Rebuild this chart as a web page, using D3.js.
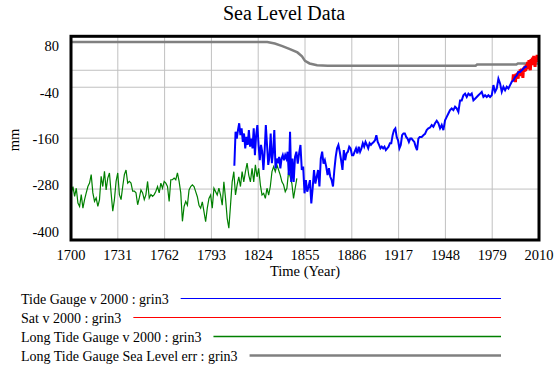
<!DOCTYPE html>
<html><head><meta charset="utf-8">
<script src="https://cdn.jsdelivr.net/npm/d3@7"></script>
<style>
body{margin:0;background:#fff;}
text{font-family:"Liberation Serif","Times New Roman",serif;fill:#000;}
</style></head><body>
<svg id="c" width="560" height="371"></svg>
<script>
const chartTitle = "Sea Level Data";
const xLabel = "Time (Year)";
const yLabel = "mm";
const xTicks = [1700,1731,1762,1793,1824,1855,1886,1917,1948,1979,2010];
const yTicks = [80,-40,-160,-280,-400];
const legendNames = ["Tide Gauge v 2000 : grin3","Sat v 2000 : grin3","Long Tide Gauge v 2000 : grin3","Long Tide Gauge Sea Level err : grin3"];
const seriesColors = ["#0000ff","#ff0000","#008000","#808080"];

// Long Tide Gauge (green), 1700 .. ~1849
const greenRange = [1700.2, 1849.6];
const greenValues = [-289,-274,-297,-278,-313,-321,-293,-325,-305,-289,
 -274,-266,-246,-289,-309,-301,-321,-305,-250,-274,
 -238,-282,-254,-242,-289,-332,-305,-262,-242,-293,
 -305,-274,-246,-235,-266,-262,-266,-285,-285,-289,
 -317,-301,-282,-289,-305,-293,-262,-301,-293,-297,
 -293,-285,-274,-289,-266,-278,-262,-266,-274,-309,
 -258,-258,-254,-258,-242,-262,-289,-356,-321,-309,
 -318,-282,-274,-270,-274,-286,-298,-318,-325,-310,
 -333,-357,-325,-302,-294,-325,-278,-286,-294,-278,
 -294,-318,-263,-302,-349,-372,-318,-263,-239,-294,
 -270,-251,-274,-239,-263,-239,-219,-247,-263,-231,
 -263,-223,-251,-231,-270,-294,-290,-302,-278,-294,
 -274,-239,-227,-239,-223,-235,-247,-263,-270,-286,
 -278,-239,-251,-267,-302,-278,-255];

// Tide Gauge (blue), three stretches
const blue1Range = [1808.2, 1847.5];
const blue1Values = [-225,-145,-161,-141,-125,-153,-137,-169,-149,-184,
 -157,-176,-141,-180,-161,-184,-137,-200,-153,-129,
 -176,-212,-176,-192,-235,-192,-129,-176,-223,-204,
 -149,-219,-192,-141,-231,-208,-219,-204,-231,-208,
 -200,-212,-200,-208,-192,-247,-145,-263,-208,-263];
const blue2Range = [1848.4, 1931.0];
const blue2Values = [-204,-192,-220,-196,-176,-235,-227,-290,-259,-286,
 -274,-259,-314,-278,-235,-267,-251,-235,-274,-208,
 -192,-220,-212,-227,-247,-231,-251,-259,-274,-235,
 -204,-184,-176,-192,-212,-235,-188,-212,-196,-192,
 -180,-184,-200,-200,-192,-184,-196,-180,-192,-184,
 -172,-180,-169,-176,-184,-172,-176,-172,-169,-165,
 -153,-169,-176,-184,-180,-184,-180,-188,-184,-180,
 -172,-172,-153,-141,-137,-157,-165,-184,-176,-153,
 -149,-149,-157,-161,-169,-161,-161,-165,-169,-180,
 -188,-161,-157];
const blue3Range = [1932.3, 2001.9];
const blue3Values = [-157,-153,-150,-141,-137,-135,-129,-133,-125,-119,
 -125,-137,-129,-141,-118,-110,-102,-94,-90,-94,
 -86,-90,-98,-71,-71,-59,-55,-63,-55,-59,
 -55,-71,-67,-63,-59,-55,-51,-63,-59,-63,
 -59,-63,-59,-35,-51,-43,-20,-31,-51,-39,
 -47,-39,-43,-35,-27,-24,-16,-12,-4,-4,
 0,4,8,8];

// Sat (red)
const redRange = [1992.6, 2009.2];
const redValues = [-26,-10,-22,-12,-28,-8,-18,-6,-20,-2,
 -14,2,-12,4,-6,-18,6,-4,10,-2,
 14,2,20,6,24,10,0,26,12,30,
 16,34,18,8,32,20,36,24];

// Long Tide Gauge Sea Level err (gray)
const grayYears = [1700,1830,1835,1840,1845,1850,1853,1855,1858,1863,1870,1968,1969,1995,1996,2010];
const grayValues = [66.6,66.6,63,57,50,42,33,22,16,12,10.5,10.5,13.5,13.5,16,16];

const svg = d3.select("#c");
const L = 71, R = 539, T = 36.3, B = 240;
const x = d3.scaleLinear().domain([1700,2010]).range([L,R]);
const y = d3.scaleLinear().domain([-400,80]).range([B,T]);

function spread(range, vals){
  const s = d3.scaleLinear().domain([0, vals.length-1]).range(range);
  return vals.map((v,i)=>[s(i), v]);
}

// gridlines
const g = svg.append("g");
g.selectAll("line.vx").data(xTicks.slice(1,-1)).enter().append("line")
 .attr("x1",d=>x(d)).attr("x2",d=>x(d)).attr("y1",T).attr("y2",B)
 .attr("stroke","#c0c0c0").attr("stroke-width",1);
g.selectAll("line.hy").data(yTicks.slice(1,-1).concat([0])).enter().append("line")
 .attr("x1",L).attr("x2",R).attr("y1",d=>y(d)).attr("y2",d=>y(d))
 .attr("stroke","#c0c0c0").attr("stroke-width",1);

svg.append("clipPath").attr("id","clip").append("rect")
 .attr("x",L).attr("y",T).attr("width",R-L).attr("height",B-T);
const line = d3.line().x(d=>x(d[0])).y(d=>y(d[1]));
const plot = svg.append("g").attr("clip-path","url(#clip)");

const grayData = grayYears.map((yr,i)=>[yr, grayValues[i]]);
const greenData = spread(greenRange, greenValues);
const blueData = spread(blue1Range, blue1Values).concat(spread(blue2Range, blue2Values), spread(blue3Range, blue3Values));
const redData = spread(redRange, redValues);

plot.append("path").datum(grayData).attr("d",line).attr("fill","none").attr("stroke",seriesColors[3]).attr("stroke-width",2.5);
plot.append("path").datum(greenData).attr("d",line).attr("fill","none").attr("stroke",seriesColors[2]).attr("stroke-width",1.2);
plot.append("path").datum(redData).attr("d",line).attr("fill","none").attr("stroke",seriesColors[1]).attr("stroke-width",3);
plot.append("path").datum(blueData).attr("d",line).attr("fill","none").attr("stroke",seriesColors[0]).attr("stroke-width",2);

// frame
svg.append("rect").attr("x",L).attr("y",T).attr("width",R-L).attr("height",B-T)
 .attr("fill","none").attr("stroke","#000").attr("stroke-width",3);

// axis labels
svg.selectAll("text.xt").data(xTicks).enter().append("text")
 .attr("x",d=>x(d)).attr("y",260).attr("text-anchor","middle")
 .attr("font-size",14.5).text(d=>d);
const yl = d3.scaleLinear().domain([80,-400]).range([T+10,B-8.5]);
svg.selectAll("text.yt").data(yTicks).enter().append("text")
 .attr("x",59).attr("y",d=>yl(d)+5).attr("text-anchor","end")
 .attr("font-size",14.5).text(d=>d);

svg.append("text").attr("x",284).attr("y",20).attr("text-anchor","middle")
 .attr("font-size",20).text(chartTitle);
svg.append("text").attr("x",(L+R)/2).attr("y",276).attr("text-anchor","middle")
 .attr("font-size",14.5).text(xLabel);
svg.append("text").attr("transform","translate(19,140) rotate(-90)").attr("text-anchor","middle")
 .attr("font-size",14.5).text(yLabel);

// legend
const widths = [1,1,1.3,2.5];
legendNames.forEach((name,i)=>{
  const ly = 298.5 + i*19;
  const t = svg.append("text").attr("x",21).attr("y",ly+5).attr("font-size",14).text(name);
  const w = t.node().getComputedTextLength();
  svg.append("line").attr("x1",21+w+12).attr("x2",501).attr("y1",ly).attr("y2",ly)
   .attr("stroke",seriesColors[i]).attr("stroke-width",widths[i]);
});
</script>
</body></html>
